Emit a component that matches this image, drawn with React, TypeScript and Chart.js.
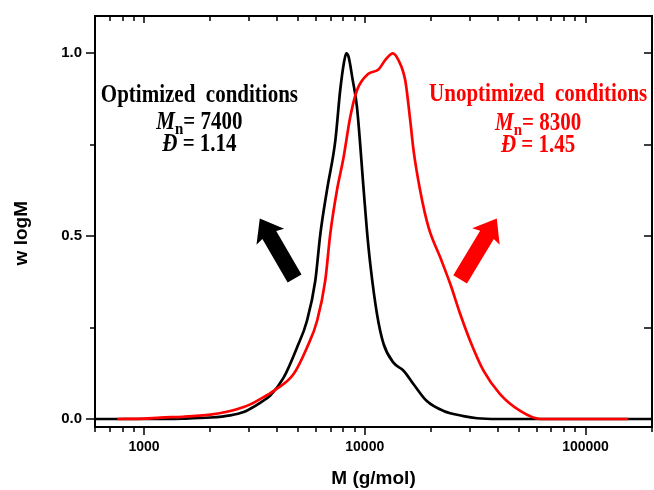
import React, { useEffect, useRef } from 'react';
import { Chart, registerables } from 'chart.js';

Chart.register(...registerables);

// ---- data ----
const optimizedM = [600, 1000, 1500, 2000, 2460, 2830, 3030, 3370, 3730, 4290, 4930, 5470, 5970, 6290, 6740, 7360, 7740, 8050, 8250, 8450, 8800, 9220, 9890, 10230, 10590, 11360, 12170, 13490, 14990, 16640, 19100, 22750, 28000, 32300, 40000, 200000];
const optimizedW = [0, 0, 0.001, 0.004, 0.010, 0.019, 0.028, 0.045, 0.064, 0.113, 0.195, 0.268, 0.378, 0.505, 0.625, 0.762, 0.899, 0.975, 1.0, 0.99, 0.93, 0.853, 0.625, 0.515, 0.424, 0.287, 0.205, 0.154, 0.132, 0.095, 0.049, 0.022, 0.008, 0.002, 0, 0];

const unoptimizedM = [757, 1000, 1190, 1500, 2000, 2460, 2830, 3030, 3370, 3870, 4760, 5470, 6080, 6620, 6980, 7480, 8020, 8590, 9220, 10380, 11500, 12500, 13400, 14220, 15250, 16070, 16640, 17820, 19450, 21970, 24400, 27060, 30000, 34500, 41000, 50600, 62200, 156000];
const unoptimizedW = [0, 0.001, 0.004, 0.006, 0.012, 0.022, 0.033, 0.040, 0.055, 0.077, 0.123, 0.195, 0.268, 0.378, 0.507, 0.625, 0.716, 0.825, 0.899, 0.944, 0.955, 0.985, 1.0, 0.981, 0.926, 0.816, 0.734, 0.625, 0.524, 0.442, 0.369, 0.287, 0.214, 0.132, 0.068, 0.022, 0, 0];

const xTickLabels = [1000, 10000, 100000];
const yTickLabels = [0, 0.5, 1.0];
const yMinorTicks = [0.25, 0.75];

const seriesNames = ['Unoptimized conditions', 'Optimized conditions'];
const mnValues = ['7400', '8300'];
const dispersities = ['1.14', '1.45'];
const xTitle = 'M (g/mol)';
const yTitle = 'w logM';

// ---- layout / styling ----
const X_MIN = 600;
const X_MAX = 200000;
const Y_MIN = -0.0219;
const Y_MAX = 1.102;

const SANS = '"Liberation Sans", Arial, sans-serif';
const SERIF = '"Liberation Serif", "Times New Roman", serif';

type Seg = { text: string; italic?: boolean; sub?: boolean };
type Note = { color: string; x: number; ys: number[]; lines: Seg[][] };

const notes: Note[] = [
  {
    color: '#000000',
    x: 1783,
    ys: [0.889, 0.815, 0.755],
    lines: [
      [{ text: 'Optimized  conditions' }],
      [{ text: 'M', italic: true }, { text: 'n', sub: true }, { text: '= ' + mnValues[0] }],
      [{ text: 'Đ', italic: true }, { text: ' = ' + dispersities[0] }],
    ],
  },
  {
    color: '#ff0000',
    x: 61000,
    ys: [0.891, 0.813, 0.752],
    lines: [
      [{ text: 'Unoptimized  conditions' }],
      [{ text: 'M', italic: true }, { text: 'n', sub: true }, { text: '= ' + mnValues[1] }],
      [{ text: 'Đ', italic: true }, { text: ' = ' + dispersities[1] }],
    ],
  },
];

const arrows = [
  { color: '#000000', from: [4810, 0.384], to: [3346, 0.548] },
  { color: '#ff0000', from: [27040, 0.382], to: [39630, 0.548] },
];

function drawArrow(ctx: CanvasRenderingContext2D, x1: number, y1: number, x2: number, y2: number, color: string) {
  const shaftW = 16, headW = 32, headL = 19;
  const dx = x2 - x1, dy = y2 - y1;
  const len = Math.hypot(dx, dy);
  const ux = dx / len, uy = dy / len;
  const nx = -uy, ny = ux;
  const bx = x2 - ux * headL, by = y2 - uy * headL;
  ctx.save();
  ctx.fillStyle = color;
  ctx.beginPath();
  ctx.moveTo(x1 + nx * shaftW / 2, y1 + ny * shaftW / 2);
  ctx.lineTo(bx + nx * shaftW / 2, by + ny * shaftW / 2);
  ctx.lineTo(bx + nx * headW / 2 - ux * 2, by + ny * headW / 2 - uy * 2);
  ctx.lineTo(x2, y2);
  ctx.lineTo(bx - nx * headW / 2 - ux * 2, by - ny * headW / 2 - uy * 2);
  ctx.lineTo(bx - nx * shaftW / 2, by - ny * shaftW / 2);
  ctx.lineTo(x1 - nx * shaftW / 2, y1 - ny * shaftW / 2);
  ctx.closePath();
  ctx.fill();
  ctx.restore();
}

function drawRich(ctx: CanvasRenderingContext2D, segs: Seg[], cx: number, cy: number, color: string) {
  const size = 21;
  const stretch = 1.18;
  const fontFor = (s: Seg) => `${s.italic ? 'italic ' : ''}bold ${s.sub ? 15 : size}px ${SERIF}`;
  const widths = segs.map((s) => {
    ctx.font = fontFor(s);
    return ctx.measureText(s.text).width;
  });
  const total = widths.reduce((a, b) => a + b, 0);
  let x = cx - total / 2;
  const baseline = cy + size * 0.33 * stretch;
  ctx.fillStyle = color;
  ctx.textBaseline = 'alphabetic';
  ctx.textAlign = 'left';
  segs.forEach((s, i) => {
    ctx.save();
    ctx.font = fontFor(s);
    ctx.translate(x, s.sub ? baseline + 5 : baseline);
    ctx.scale(1, stretch);
    ctx.fillText(s.text, 0, 0);
    ctx.restore();
    x += widths[i];
  });
}

function minorXTicks(): number[] {
  const out: number[] = [];
  for (let d = 100; d <= 1000000; d *= 10) {
    for (let k = 1; k <= 9; k++) {
      const v = d * k;
      if (v >= X_MIN && v <= X_MAX) out.push(v);
    }
  }
  return out;
}

const framePlugin = {
  id: 'framePlugin',
  afterDatasetsDraw(chart: any) {
    const { ctx, chartArea, scales } = chart;
    const xs = scales.x, ys = scales.y;
    const { left, right, top, bottom } = chartArea;
    ctx.save();
    ctx.strokeStyle = '#000';
    ctx.lineWidth = 2;
    ctx.strokeRect(left, top, right - left, bottom - top);
    ctx.lineWidth = 1.5;
    // x ticks
    minorXTicks().forEach((v) => {
      const px = Math.round(xs.getPixelForValue(v));
      const major = xTickLabels.includes(v);
      ctx.beginPath();
      ctx.moveTo(px, bottom);
      ctx.lineTo(px, bottom + (major ? 8 : 5));
      ctx.moveTo(px, top);
      ctx.lineTo(px, top + (major ? 7 : 5));
      ctx.stroke();
    });
    // y ticks
    [...yTickLabels.map((v) => [v, 1]), ...yMinorTicks.map((v) => [v, 0])].forEach(([v, m]) => {
      const py = Math.round(ys.getPixelForValue(v));
      ctx.beginPath();
      ctx.moveTo(left, py);
      ctx.lineTo(left - (m ? 9 : 5), py);
      ctx.moveTo(right, py);
      ctx.lineTo(right - 8, py);
      ctx.stroke();
    });
    ctx.restore();

    // axis titles
    ctx.save();
    ctx.fillStyle = '#000';
    ctx.font = `bold 19px ${SANS}`;
    ctx.textAlign = 'center';
    ctx.textBaseline = 'middle';
    ctx.fillText(xTitle, (left + right) / 2, bottom + 52);
    ctx.translate(22, ys.getPixelForValue(0.508));
    ctx.rotate(-Math.PI / 2);
    ctx.fillText(yTitle, 0, 0);
    ctx.restore();

    arrows.forEach((a) => {
      drawArrow(
        ctx,
        xs.getPixelForValue(a.from[0]), ys.getPixelForValue(a.from[1]),
        xs.getPixelForValue(a.to[0]), ys.getPixelForValue(a.to[1]),
        a.color
      );
    });

    notes.forEach((n) => {
      const cx = xs.getPixelForValue(n.x);
      n.lines.forEach((line, i) => {
        drawRich(ctx, line, cx, ys.getPixelForValue(n.ys[i]), n.color);
      });
    });
  },
};

export default function App() {
  const ref = useRef<HTMLCanvasElement | null>(null);
  useEffect(() => {
    document.body.style.margin = '0';
    const canvas = ref.current;
    if (!canvas) return;
    const chart = new Chart(canvas, {
      type: 'line',
      data: {
        datasets: [
          {
            label: seriesNames[0],
            data: unoptimizedM.map((m, i) => ({ x: m, y: unoptimizedW[i] })),
            borderColor: '#ff0000',
            borderWidth: 2.7,
            pointRadius: 0,
            fill: false,
            cubicInterpolationMode: 'monotone',
          },
          {
            label: seriesNames[1],
            data: optimizedM.map((m, i) => ({ x: m, y: optimizedW[i] })),
            borderColor: '#000000',
            borderWidth: 2.7,
            pointRadius: 0,
            fill: false,
            cubicInterpolationMode: 'monotone',
          },
        ],
      },
      options: {
        animation: false,
        responsive: false,
        devicePixelRatio: 1,
        layout: { padding: { top: 16, right: 2, left: 0, bottom: 0 } },
        plugins: { legend: { display: false }, tooltip: { enabled: false } },
        scales: {
          x: {
            type: 'logarithmic',
            min: X_MIN,
            max: X_MAX,
            afterBuildTicks: (scale: any) => {
              scale.ticks = xTickLabels.map((v) => ({ value: v }));
            },
            afterFit: (scale: any) => {
              scale.height = 63;
              scale.paddingLeft = 0;
              scale.paddingRight = 0;
            },
            grid: { display: false, drawTicks: false, tickLength: 0 },
            border: { display: false },
            ticks: {
              autoSkip: false,
              maxRotation: 0,
              padding: 12,
              color: '#000',
              font: { family: SANS, size: 14, weight: 'bold' },
              callback: (v: any) => String(v),
            },
          },
          y: {
            type: 'linear',
            min: Y_MIN,
            max: Y_MAX,
            afterBuildTicks: (scale: any) => {
              scale.ticks = yTickLabels.map((v) => ({ value: v }));
            },
            afterFit: (scale: any) => {
              scale.width = 95;
              scale.paddingTop = 0;
              scale.paddingBottom = 0;
            },
            grid: { display: false, drawTicks: false, tickLength: 0 },
            border: { display: false },
            ticks: {
              padding: 13,
              color: '#000',
              font: { family: SANS, size: 15, weight: 'bold' },
              callback: (v: any) => Number(v).toFixed(1),
            },
          },
        },
      },
      plugins: [framePlugin],
    } as any);
    return () => chart.destroy();
  }, []);
  return <canvas ref={ref} width={654} height={490} style={{ display: 'block' }} />;
}
